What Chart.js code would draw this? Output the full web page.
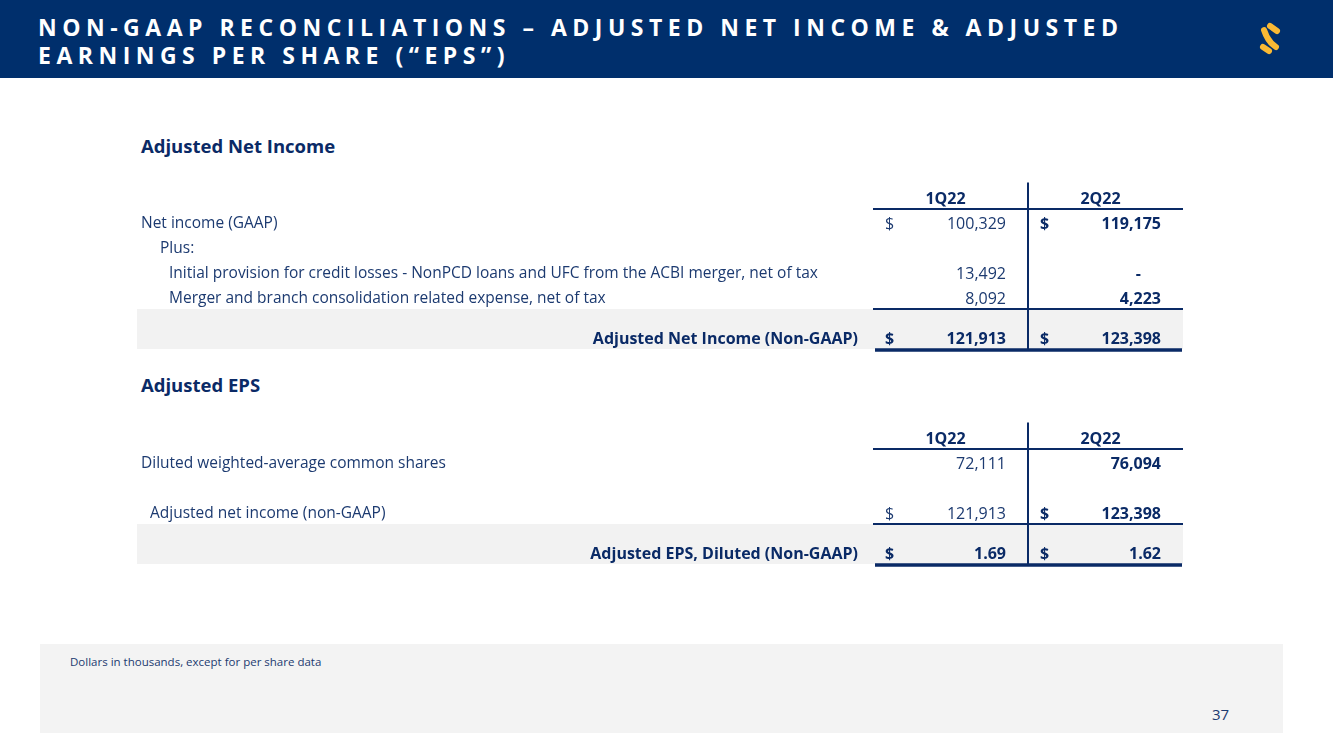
<!DOCTYPE html>
<html>
<head>
<meta charset="utf-8">
<script src="https://cdn.jsdelivr.net/npm/chart.js@4.4.0/dist/chart.umd.min.js"></script>
<style>
  body { margin: 0; width: 1333px; height: 749px; position: relative; overflow: hidden; background: #fff; font-family: "Open Sans", sans-serif; }
  .header { position: absolute; left: 0; top: 0; width: 1333px; height: 78px; background: #002f6c; }
  .title { position: absolute; left: 38px; top: 13px; color: #fff; font-weight: 700; font-size: 23px; letter-spacing: 5.5px; line-height: 28px; white-space: nowrap; }
  .logo { position: absolute; left: 0; top: 0; }
  .section { position: absolute; left: 141px; font-weight: 700; font-size: 18.5px; color: #0a2a66; line-height: 24px; }
  .tbl { position: absolute; left: 0; width: 1333px; }
  .footer { position: absolute; left: 40px; top: 644px; width: 1243px; height: 89px; background: #f3f3f3; }
  .note { position: absolute; left: 30px; top: 10px; font-size: 11.5px; color: #1c3a70; }
  .page { position: absolute; left: 1172px; top: 60px; font-size: 15px; color: #1c3a70; }
</style>
</head>
<body>
<div class="header">
  <div class="title">NON-GAAP RECONCILIATIONS – ADJUSTED NET INCOME &amp; ADJUSTED<br>EARNINGS PER SHARE (“EPS”)</div>
  <svg class="logo" width="1333" height="78">
    <g stroke="#f9b934" stroke-width="6" stroke-linecap="round" fill="none">
      <path d="M1270 26 L1277 31"/>
      <path d="M1264 30 Q1268 42 1276 47"/>
      <path d="M1263 47 L1269 51"/>
    </g>
  </svg>
</div>

<div class="section" style="top:134px">Adjusted Net Income</div>
<div class="tbl" style="top:170px;height:200px"><canvas id="incomeTable"></canvas></div>

<div class="section" style="top:373px">Adjusted EPS</div>
<div class="tbl" style="top:410px;height:180px"><canvas id="epsTable"></canvas></div>

<div class="footer">
  <div class="note">Dollars in thousands, except for per share data</div>
  <div class="page">37</div>
</div>

<script>
// Column headers
const quarters = ["1Q22", "2Q22"];

// Adjusted Net Income
const incomeLabels = [
  "Net income (GAAP)",
  "Plus:",
  "Initial provision for credit losses - NonPCD loans and UFC from the ACBI merger, net of tax",
  "Merger and branch consolidation related expense, net of tax",
];
const income1Q22 = [100329, null, 13492, 8092];
const income2Q22 = [119175, null, 0, 4223];
const adjustedNetIncome = [121913, 123398];

// Adjusted EPS
const epsLabels = [
  "Diluted weighted-average common shares",
  "",
  "Adjusted net income (non-GAAP)",
];
const eps1Q22 = [72111, null, 121913];
const eps2Q22 = [76094, null, 123398];
const adjustedEps = [1.69, 1.62];

const NAVY = "#0a2a66";
const TEXT = "#1c3a70";
const FONT = '"Open Sans", sans-serif';

function fmt(v) {
  if (v === 0) return "-";
  if (Number.isInteger(v)) return v.toLocaleString("en-US");
  return v.toFixed(2);
}

function makeTable(id, spec) {
  const slots = ["head", ...spec.labels.map((l, i) => "row" + i), "gap", "total"];

  const datasets = quarters.map((q, qi) => ({
    label: q,
    data: spec.values[qi]
      .map((v, i) => ({ x: q, y: "row" + i, v: v }))
      .concat([{ x: q, y: "total", v: spec.totals[qi] }]),
    showLine: false,
    pointRadius: 0,
  }));

  const cells = {
    id: "cells",
    beforeDatasetsDraw(chart) {
      const { ctx, chartArea, scales: { x, y } } = chart;
      const left = chartArea.left;
      const right = chartArea.right;
      const mid = (x.getPixelForValue(0) + x.getPixelForValue(1)) / 2;
      const headY = y.getPixelForValue(0);
      const lastY = y.getPixelForValue(spec.labels.length);
      const totalY = y.getPixelForValue(slots.length - 1);

      ctx.save();
      // shaded total row
      ctx.fillStyle = "#f2f2f2";
      ctx.fillRect(137, lastY + 10, right - 137, totalY - lastY - 10);

      ctx.strokeStyle = NAVY;
      ctx.lineWidth = 2;
      ctx.beginPath();
      ctx.moveTo(left, headY + 10);
      ctx.lineTo(right, headY + 10);
      ctx.moveTo(left, lastY + 10);
      ctx.lineTo(right, lastY + 10);
      ctx.moveTo(mid, chartArea.top - 4);
      ctx.lineTo(mid, totalY + 1);
      ctx.stroke();

      ctx.lineWidth = 3.5;
      ctx.beginPath();
      ctx.moveTo(left + 2, totalY + 1);
      ctx.lineTo(right - 1, totalY + 1);
      ctx.stroke();

      // column headers
      ctx.textBaseline = "middle";
      ctx.textAlign = "center";
      ctx.fillStyle = NAVY;
      ctx.font = "bold 16px " + FONT;
      x.ticks.forEach((t, i) => {
        ctx.fillText(t.label, x.getPixelForValue(i) - 5, headY);
      });

      // row labels
      ctx.textAlign = "left";
      ctx.fillStyle = TEXT;
      ctx.font = "15.5px " + FONT;
      spec.labels.forEach((l, i) => {
        ctx.fillText(l, 141 + spec.indent[i], y.getPixelForValue(i + 1));
      });
      ctx.textAlign = "right";
      ctx.fillStyle = NAVY;
      ctx.font = "bold 16px " + FONT;
      ctx.fillText(spec.totalLabel, left - 15, totalY - 10);

      // values
      const colW = mid - left;
      chart.data.datasets.forEach((ds, di) => {
        const meta = chart.getDatasetMeta(di);
        meta.data.forEach((pt, i) => {
          const v = ds.data[i].v;
          if (v == null) return;
          const isTotal = i === ds.data.length - 1;
          const bold = di === 1 || isTotal;
          const ty = isTotal ? pt.y - 10 : pt.y;
          const cl = pt.x - colW / 2;
          const cr = pt.x + colW / 2;
          ctx.font = (bold ? "bold 16px " : "16px ") + FONT;
          ctx.fillStyle = bold ? NAVY : TEXT;
          ctx.textAlign = "right";
          ctx.fillText(fmt(v), v === 0 ? cr - 42 : cr - 22, ty);
          if (isTotal || spec.dollarRows.includes(i)) {
            ctx.textAlign = "left";
            ctx.fillText("$", cl + 12, ty);
          }
        });
      });
      ctx.restore();
    },
  };

  return new Chart(document.getElementById(id), {
    type: "line",
    data: { datasets: datasets },
    plugins: [cells],
    options: {
      responsive: true,
      maintainAspectRatio: false,
      animation: false,
      events: [],
      layout: { padding: spec.padding },
      plugins: { legend: { display: false }, tooltip: { enabled: false } },
      scales: {
        x: { type: "category", labels: quarters, offset: true, display: false },
        y: { type: "category", labels: slots, offset: true, display: false },
      },
    },
  });
}

makeTable("incomeTable", {
  labels: incomeLabels,
  indent: [0, 19, 28, 28],
  values: [income1Q22, income2Q22],
  totals: adjustedNetIncome,
  totalLabel: "Adjusted Net Income (Non-GAAP)",
  dollarRows: [0],
  padding: { left: 873, right: 150, top: 16.5, bottom: 8.5 },
});

makeTable("epsTable", {
  labels: epsLabels,
  indent: [0, 0, 9],
  values: [eps1Q22, eps2Q22],
  totals: adjustedEps,
  totalLabel: "Adjusted EPS, Diluted (Non-GAAP)",
  dollarRows: [2],
  padding: { left: 873, right: 150, top: 16.5, bottom: 13.5 },
});
</script>
</body>
</html>
